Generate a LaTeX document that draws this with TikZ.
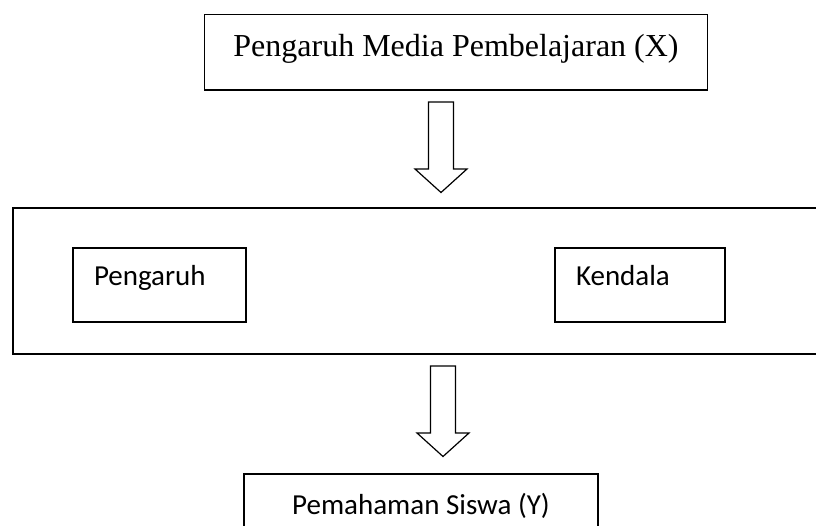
\documentclass[tikz,border=0pt]{standalone}
\usepackage{fontspec}
\setmainfont{Liberation Serif}
\newfontfamily\calibri{Carlito}
\usepackage{tikz}
\usetikzlibrary{positioning}

\tikzset{
    box/.style={draw, line width=1.8pt, inner sep=0pt, align=center},
    smallbox/.style={draw, line width=1.8pt, inner xsep=21pt, inner ysep=0pt,
        text width=131pt, align=left, font=\calibri\fontsize{29}{34}\selectfont},
    blockarrow/.style={draw, line width=1.2pt, line join=miter}
}

\begin{document}
\begin{tikzpicture}[x=1pt, y=-1pt]
    \path[use as bounding box, clip] (0,0) rectangle (816,525);

    % top box
    \node[box, minimum width=503pt, text height=42.3pt, text depth=33.2pt,
        font=\fontsize{32}{37}\selectfont] (media) at (456,52.25)
        {Pengaruh Media Pembelajaran (X)};

    % middle frame
    \node[box, minimum width=820pt, minimum height=146pt] (frame) at (423,281) {};

    \node[smallbox, text height=37pt, text depth=37pt] (pengaruh) at (159.5,285) {Pengaruh};
    \node[smallbox, text height=37pt, text depth=37pt, text width=128pt] (kendala) at (640,285) {Kendala};

    % bottom box
    \node[box, minimum width=354pt, text height=40pt, text depth=25pt,
        font=\calibri\fontsize{29}{34}\selectfont] (siswa) at (421,506.5)
        {Pemahaman Siswa (Y)};

    % hollow arrows between the boxes
    \coordinate (arrA) at (441,102);
    \coordinate (arrB) at (443,366);
    \foreach \a in {arrA, arrB}
        \draw[blockarrow] (\a) ++(-12.5,0) -- ++(25,0) -- ++(0,67) -- ++(13.5,0)
            -- ++(-26,23.5) -- ++(-26,-23.5) -- ++(13.5,0) -- cycle;
\end{tikzpicture}
\end{document}
